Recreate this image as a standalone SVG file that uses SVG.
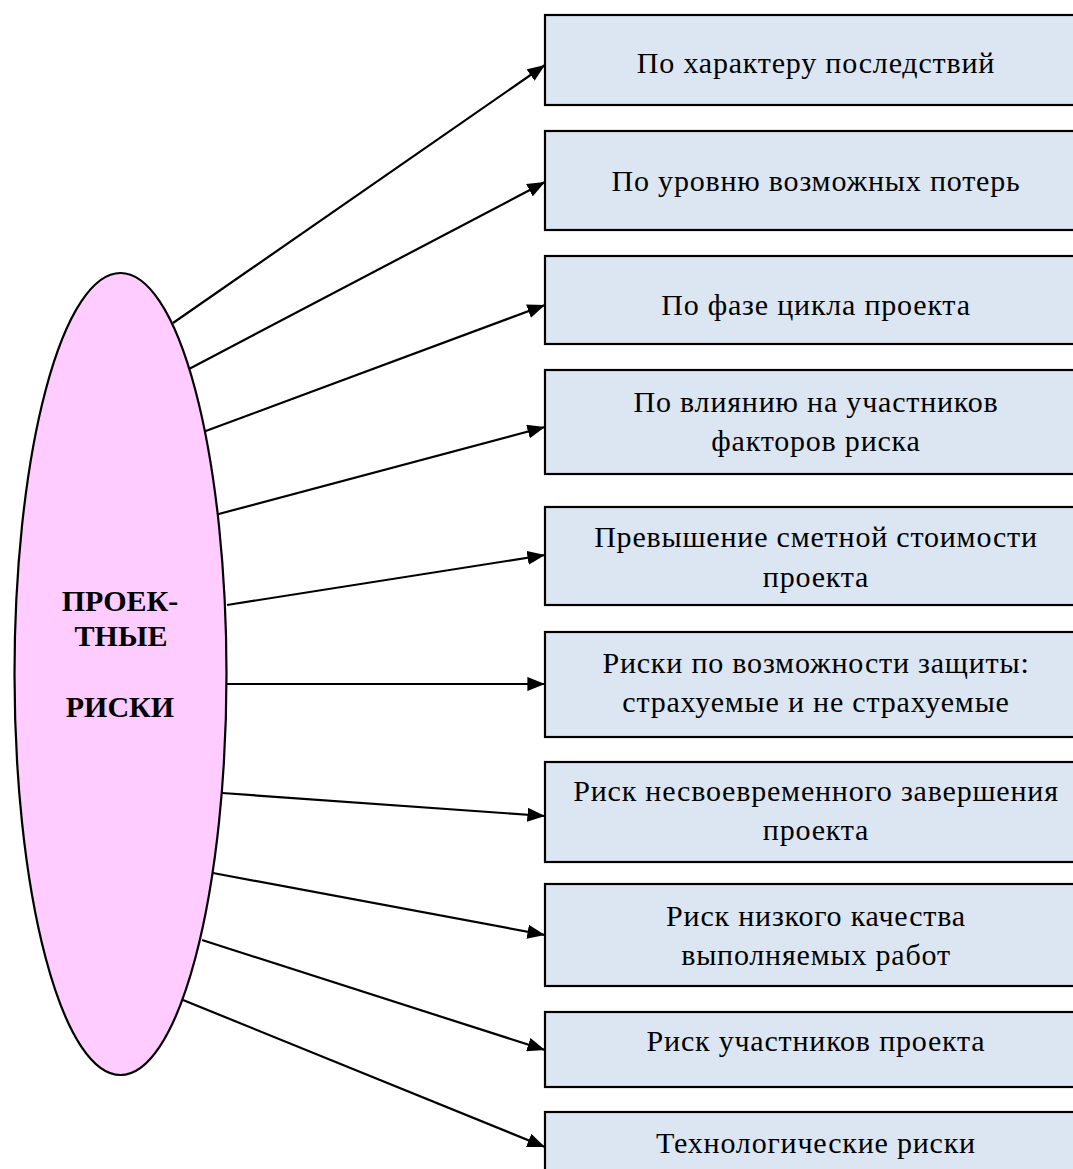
<svg xmlns="http://www.w3.org/2000/svg" width="1073" height="1169" viewBox="0 0 1073 1169">
<style>
.box{fill:#dce6f2;stroke:#000;stroke-width:2.2}
.t{font-family:"Liberation Serif","Times New Roman",serif;font-size:30px;letter-spacing:0.8px;fill:#000;text-anchor:middle}
.c{font-family:"Liberation Serif","Times New Roman",serif;font-size:30px;font-weight:bold;fill:#000;text-anchor:middle}
.ln{stroke:#000;stroke-width:2.2;fill:none;marker-end:url(#ah)}
</style>
<defs>
<marker id="ah" viewBox="0 0 10 8" refX="10" refY="4" markerWidth="8" markerHeight="6.4" markerUnits="strokeWidth" orient="auto">
<path d="M0,0 L10,4 L0,8 z" fill="#000"/>
</marker>
</defs>
<rect width="1073" height="1169" fill="#fff"/>
<g id="connectors">
<line class="ln" x1="173" y1="323" x2="545" y2="65"/>
<line class="ln" x1="189" y1="369" x2="545" y2="182"/>
<line class="ln" x1="203" y1="432" x2="545" y2="305"/>
<line class="ln" x1="215" y1="515" x2="545" y2="427"/>
<line class="ln" x1="227" y1="605" x2="545" y2="555"/>
<line class="ln" x1="227" y1="684" x2="545" y2="684"/>
<line class="ln" x1="222" y1="793" x2="545" y2="816"/>
<line class="ln" x1="213" y1="873" x2="545" y2="935"/>
<line class="ln" x1="202" y1="940" x2="545" y2="1050"/>
<line class="ln" x1="183" y1="1000" x2="545" y2="1147"/>
</g>
<g id="center">
<ellipse cx="120.5" cy="674" rx="106" ry="401" fill="#ffccff" stroke="#000" stroke-width="2.2"/>
<text class="c" x="120" y="611">ПРОЕК-</text>
<text class="c" x="121" y="646">ТНЫЕ</text>
<text class="c" x="120" y="717">РИСКИ</text>
</g>
<g id="n1"><rect class="box" x="545" y="15" width="540" height="90"/><text class="t" x="816" y="73">По характеру последствий</text></g>
<g id="n2"><rect class="box" x="545" y="131" width="540" height="99"/><text class="t" x="816" y="191">По уровню возможных потерь</text></g>
<g id="n3"><rect class="box" x="545" y="256" width="540" height="88"/><text class="t" x="816" y="315">По фазе цикла проекта</text></g>
<g id="n4"><rect class="box" x="545" y="370" width="540" height="104"/><text class="t" x="816" y="412">По влиянию на участников</text><text class="t" x="816" y="451">факторов риска</text></g>
<g id="n5"><rect class="box" x="545" y="507" width="540" height="98"/><text class="t" x="816" y="547">Превышение сметной стоимости</text><text class="t" x="816" y="587">проекта</text></g>
<g id="n6"><rect class="box" x="545" y="632" width="540" height="105"/><text class="t" x="816" y="673">Риски по возможности защиты:</text><text class="t" x="816" y="712">страхуемые и не страхуемые</text></g>
<g id="n7"><rect class="box" x="545" y="762" width="540" height="100"/><text class="t" x="816" y="801">Риск несвоевременного завершения</text><text class="t" x="816" y="840">проекта</text></g>
<g id="n8"><rect class="box" x="545" y="884" width="540" height="102"/><text class="t" x="816" y="926">Риск низкого качества</text><text class="t" x="816" y="965">выполняемых работ</text></g>
<g id="n9"><rect class="box" x="545" y="1012" width="540" height="75"/><text class="t" x="816" y="1051">Риск участников проекта</text></g>
<g id="n10"><rect class="box" x="545" y="1112" width="540" height="80"/><text class="t" x="816" y="1153">Технологические риски</text></g>
</svg>
